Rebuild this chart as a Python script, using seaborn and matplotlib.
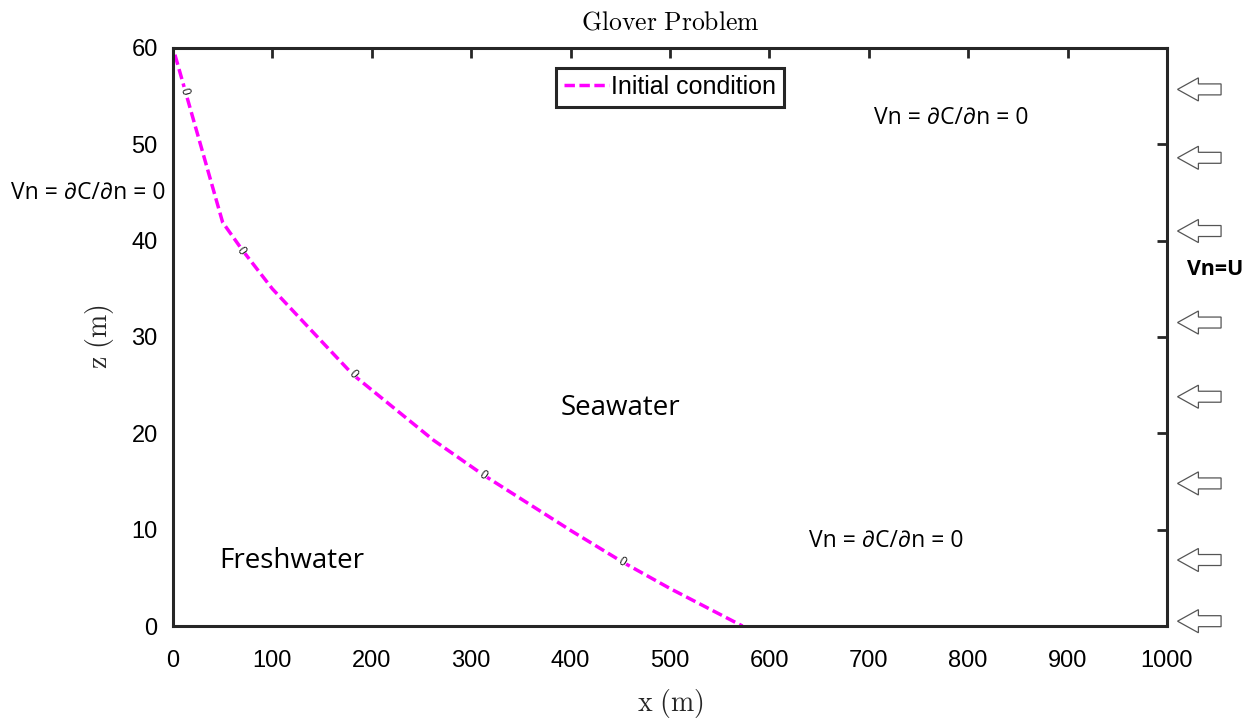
import numpy as np
import pandas as pd
import matplotlib
matplotlib.use("Agg")
import matplotlib.pyplot as plt
from matplotlib.patches import FancyArrow
import seaborn as sns

# initial freshwater/seawater interface (contour 0)
interface_x = [2, 50, 70, 100, 150, 181, 262, 312, 402, 453, 500, 573]
interface_z = [59.3, 41.9, 39.0, 35.0, 29.5, 26.1, 19.3, 15.7, 9.8, 6.6, 3.9, 0.0]

# contour label locations along the interface
label_x = [11, 68, 181, 312, 452]
label_z = [55.5, 38.9, 26.1, 15.6, 6.6]

# inflow arrows on the right boundary (z in m)
arrow_z = [55.7, 48.6, 41.0, 31.5, 23.8, 14.8, 6.85, 0.5]

x_ticks = list(range(0, 1001, 100))
z_ticks = list(range(0, 61, 10))

sns.set_theme(style="white")
plt.rcParams["font.family"] = ["Liberation Sans", "DejaVu Sans"]
plt.rcParams["mathtext.fontset"] = "cm"
plt.rcParams["text.color"] = "black"

fig = plt.figure(figsize=(12.55, 7.28), dpi=100)
ax = fig.add_axes([0.1378, 0.1401, 0.7920, 0.7940])

df = pd.DataFrame({"x": interface_x, "z": interface_z})
sns.lineplot(data=df, x="x", y="z", ax=ax, color="#ff00ff", linewidth=2.5,
             estimator=None, sort=False, label="Initial condition",
             dashes=False)
ax.lines[0].set_dashes((3.0, 1.3))

ax.set_xlim(0, 1000)
ax.set_ylim(0, 60)
ax.set_xticks(x_ticks)
ax.set_yticks(z_ticks)

for sp in ax.spines.values():
    sp.set_linewidth(2.2)
    sp.set_color("#262626")
ax.tick_params(axis="both", which="both", direction="in", length=7, width=2,
               color="#262626", top=True, right=True, labelsize=17,
               labelcolor="black")
ax.tick_params(axis="x", pad=17)
ax.tick_params(axis="y", pad=11)

ax.set_title(r"$\mathrm{Glover\ Problem}$", fontsize=18.5, pad=13)
ax.set_xlabel(r"$\mathrm{x\ (m)}$", fontsize=20, labelpad=11)
ax.set_ylabel(r"$\mathrm{z\ (m)}$", fontsize=20, labelpad=11)

leg = ax.legend(loc="upper center", bbox_to_anchor=(0.5, 0.966), fontsize=18,
                handlelength=1.8, handletextpad=0.1, borderpad=0.3,
                fancybox=False, framealpha=1, borderaxespad=0)
leg.get_frame().set_edgecolor("#262626")
leg.get_frame().set_linewidth(2.2)

# contour labels rotated along the line
fig.canvas.draw()
pts = ax.transData.transform(np.column_stack([interface_x, interface_z]))
for lx, lz in zip(label_x, label_z):
    i = np.searchsorted(interface_x, lx)
    i = min(max(i, 1), len(interface_x) - 1)
    d = pts[i] - pts[i - 1]
    ang = np.degrees(np.arctan2(d[1], d[0]))
    ax.text(lx, lz, "0", fontsize=8.5, ha="center", va="center",
            rotation=ang, rotation_mode="anchor", color="#222222",
            bbox=dict(facecolor="white", edgecolor="none", pad=0.6), zorder=5)

txt_font = ["Open Sans", "DejaVu Sans"]
ax.text(0.45, 0.377, "Seawater", transform=ax.transAxes, fontsize=20,
        family=txt_font, ha="center", va="center")
ax.text(0.12, 0.112, "Freshwater", transform=ax.transAxes, fontsize=20,
        family=txt_font, ha="center", va="center")
ax.text(0.783, 0.879, "Vn = \u2202C/\u2202n = 0", transform=ax.transAxes,
        fontsize=16.5, family=txt_font, ha="center", va="center")
ax.text(0.718, 0.147, "Vn = \u2202C/\u2202n = 0", transform=ax.transAxes,
        fontsize=16.5, family=txt_font, ha="center", va="center")
ax.text(-0.0855, 0.749, "Vn = \u2202C/\u2202n = 0", transform=ax.transAxes,
        fontsize=16.5, family=txt_font, ha="center", va="center")
ax.text(1.049, 0.616, "Vn=U", transform=ax.transAxes, fontsize=15.5,
        fontweight="bold", family=txt_font, ha="center", va="center")

# hollow arrows pointing into the domain
ytr = ax.get_yaxis_transform()
for az in arrow_z:
    arr = FancyArrow(1.0545, az, -0.0438, 0, width=1.14, head_width=2.4,
                     head_length=0.021, length_includes_head=True,
                     transform=ytr, clip_on=False, facecolor="white",
                     edgecolor="#555555", linewidth=0.9)
    ax.add_patch(arr)

fig.savefig("out.png", dpi=100)
